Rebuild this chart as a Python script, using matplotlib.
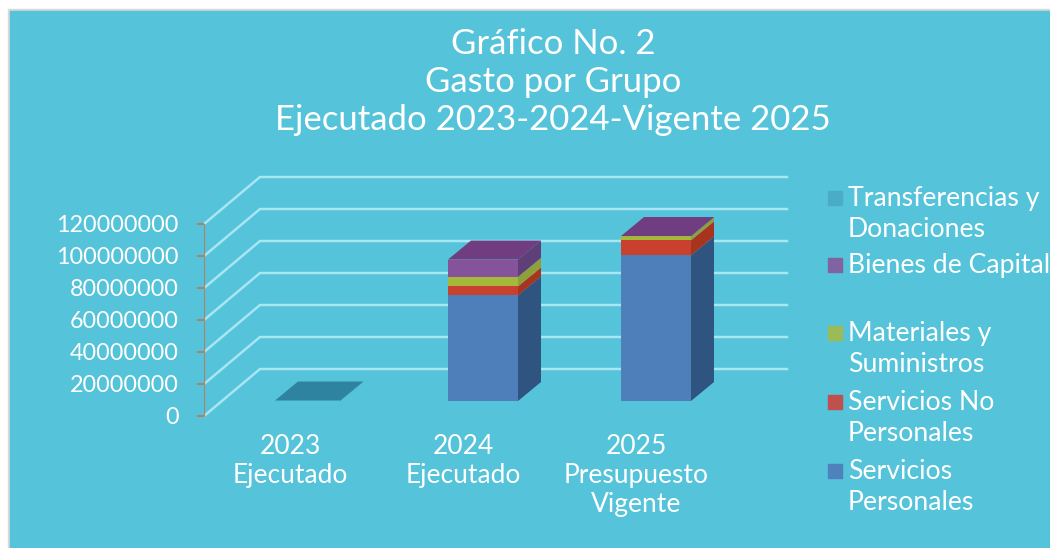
import matplotlib
matplotlib.use("Agg")
import matplotlib.pyplot as plt
from matplotlib.patches import Polygon, Rectangle

plt.rcParams["font.family"] = ["Lato", "DejaVu Sans"]

categories = ["2023\nEjecutado", "2024\nEjecutado", "2025\nPresupuesto\nVigente"]
servicios_personales = [0, 66000000, 91000000]
servicios_no_personales = [0, 5600000, 9400000]
materiales = [0, 6000000, 2500000]
bienes_capital = [0, 10800000, 200000]
transferencias = [300000, 0, 0]
yticks = [0, 20000000, 40000000, 60000000, 80000000, 100000000, 120000000]

legend_names = ["Transferencias y\nDonaciones", "Bienes de Capital", "Materiales y\nSuministros",
                "Servicios No\nPersonales", "Servicios\nPersonales"]
legend_colors = ["#4bacc6", "#8064a2", "#9bbb59", "#c0504d", "#4f81bd"]

series = [servicios_personales, servicios_no_personales, materiales, bienes_capital, transferencias]
front = ["#4f7fbb", "#c9402f", "#a4b93c", "#85539c", "#2e83a0"]
side = ["#2f5480", "#a8341f", "#8fa03a", "#5f3f78", "#256f8a"]
top = ["#2f5480", "#a8341f", "#8fa03a", "#6f3d80", "#2e83a0"]

BG = "#55c3d9"
W, H = 1050, 548
fig = plt.figure(figsize=(W / 100, H / 100), dpi=100, facecolor="white")
fig.add_artist(Rectangle((8 / W, 0), 1042 / W, 539 / H, transform=fig.transFigure, color="#d9d9d9", zorder=-6))
fig.add_artist(Rectangle((10 / W, 0), 1040 / W, 537 / H, transform=fig.transFigure, color=BG, zorder=-5))

# axes: x unit = 173 px, y 1.6 px per million
ax = fig.add_axes([204 / W, (H - 416) / H, 556 / W, 192 / H])
ax.patch.set_alpha(0)
x0 = (310 - 204) / 173
ax.set_xlim(-x0, 556 / 173 - x0)
ax.set_ylim(0, 120000000)
for s in ["top", "right", "bottom"]:
    ax.spines[s].set_visible(False)
ax.spines["left"].set_color("#b0806c")
ax.spines["left"].set_linestyle((0, (2, 1)))

# depth of the floor and of the bars, data units
wall_dx, wall_dy = 56 / 173, 47 / 1.6 * 1e6
bar_dx, bar_dy = 23 / 173, 19 / 1.6 * 1e6
base = 15 / 1.6 * 1e6
left_edge = -x0
right_edge = (787 - 204) / 173 - x0

for v in yticks:
    ax.plot([left_edge, left_edge + wall_dx, right_edge], [v, v + wall_dy, v + wall_dy],
            color="#a9e6f3", lw=1.8, clip_on=False, zorder=1, solid_joinstyle="miter")

for i in range(len(categories)):
    # the 2023 slab is a bit narrower than the other two
    bar_w = (65 if i == 0 else 70) / 173
    xc = i - (2.5 / 173 if i == 0 else 0)
    xl = xc - bar_w / 2
    xr = xc + bar_w / 2
    bottom = base
    tops = []
    for k, vals in enumerate(series):
        v = vals[i]
        if v == 0:
            continue
        ax.bar(xc, v, bar_w, bottom=bottom, color=front[k], zorder=3, clip_on=False)
        ax.add_patch(Polygon([(xr, bottom), (xr + bar_dx, bottom + bar_dy),
                              (xr + bar_dx, bottom + v + bar_dy), (xr, bottom + v)],
                             color=side[k], lw=0, zorder=3, clip_on=False))
        bottom += v
        tops.append(k)
    ax.add_patch(Polygon([(xl, bottom), (xr, bottom), (xr + bar_dx, bottom + bar_dy),
                          (xl + bar_dx, bottom + bar_dy)],
                         color=top[tops[-1]], lw=0, zorder=4, clip_on=False))

ax.set_yticks(yticks)
ax.set_yticklabels([str(v) for v in yticks], fontsize=16.8, color="white")
ax.tick_params(axis="y", color="#b0806c", length=5, width=1.5, pad=13)
ax.set_xticks([(290 - 310) / 173, (463 - 310) / 173, (636 - 310) / 173])
ax.set_xticklabels(categories, fontsize=19, color="white", linespacing=1.2)
ax.tick_params(axis="x", length=0, pad=13)

fig.text(553 / W, 1 - 82 / H, "Gráfico No. 2\nGasto por Grupo\nEjecutado 2023-2024-Vigente 2025",
         ha="center", va="center", color="white", fontsize=25, linespacing=1.25)

# legend drawn by hand because entries are unevenly spaced
legend_y = [198, 265, 333, 402, 471]
for name, col, y in zip(legend_names, legend_colors, legend_y):
    fig.add_artist(Rectangle((828 / W, 1 - (y + 7) / H), 14 / W, 14 / H, transform=fig.transFigure, color=col))
    fig.text(848 / W, 1 - (y - 12) / H, name, ha="left", va="top", color="white", fontsize=19.2, linespacing=1.3)

fig.savefig("out.png", dpi=100, facecolor=fig.get_facecolor())
